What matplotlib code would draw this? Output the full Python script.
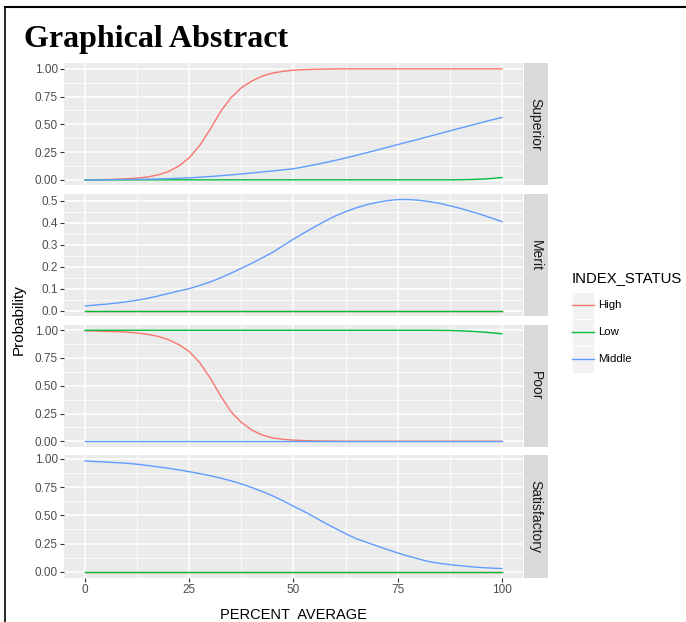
import matplotlib.pyplot as plt
from matplotlib.lines import Line2D
from matplotlib.patches import Rectangle
from matplotlib.legend_handler import HandlerLine2D
from matplotlib.ticker import MultipleLocator, FormatStrFormatter

plt.rcParams['font.family'] = ['Liberation Sans', 'DejaVu Sans']

# percent average grid (values read every 2.5 units)
pct = [0, 2.5, 5, 7.5, 10, 12.5, 15, 17.5, 20, 22.5, 25, 27.5, 30, 32.5, 35, 37.5, 40,
       42.5, 45, 47.5, 50, 52.5, 55, 57.5, 60, 62.5, 65, 67.5, 70, 72.5, 75, 77.5, 80,
       82.5, 85, 87.5, 90, 92.5, 95, 97.5, 100]
zeros = [0.0] * len(pct)

# Superior
sup_high = [0.000, 0.001, 0.003, 0.006, 0.010, 0.016, 0.026, 0.045, 0.075, 0.125, 0.200,
            0.310, 0.455, 0.615, 0.740, 0.830, 0.890, 0.935, 0.962, 0.978, 0.988, 0.993,
            0.996, 0.998, 0.999, 1.000, 1.000, 1.000, 1.000, 1.000, 1.000, 1.000, 1.000,
            1.000, 1.000, 1.000, 1.000, 1.000, 1.000, 1.000, 1.000]
sup_low = [0.000, 0.000, 0.000, 0.000, 0.000, 0.000, 0.000, 0.000, 0.000, 0.000, 0.000,
           0.000, 0.000, 0.000, 0.000, 0.000, 0.000, 0.000, 0.000, 0.000, 0.000, 0.000,
           0.000, 0.000, 0.000, 0.000, 0.000, 0.000, 0.000, 0.000, 0.000, 0.000, 0.000,
           0.000, 0.000, 0.000, 0.001, 0.003, 0.006, 0.012, 0.021]
sup_mid = [0.000, 0.000, 0.001, 0.002, 0.003, 0.004, 0.006, 0.008, 0.011, 0.014, 0.018,
           0.024, 0.030, 0.037, 0.045, 0.053, 0.062, 0.071, 0.080, 0.090, 0.100, 0.117,
           0.135, 0.155, 0.175, 0.197, 0.220, 0.244, 0.268, 0.293, 0.318, 0.342, 0.366,
           0.391, 0.416, 0.441, 0.466, 0.490, 0.515, 0.539, 0.562]

# Merit
mer_high = zeros
mer_low = zeros
mer_mid = [0.021, 0.025, 0.029, 0.034, 0.040, 0.047, 0.056, 0.066, 0.078, 0.089, 0.100,
           0.114, 0.130, 0.149, 0.170, 0.192, 0.215, 0.240, 0.265, 0.295, 0.325, 0.353,
           0.380, 0.406, 0.430, 0.450, 0.467, 0.481, 0.492, 0.500, 0.505, 0.505, 0.502,
           0.496, 0.488, 0.477, 0.465, 0.451, 0.437, 0.421, 0.405]

# Poor
poor_high = [0.995, 0.993, 0.990, 0.987, 0.983, 0.975, 0.963, 0.945, 0.915, 0.870, 0.808,
             0.708, 0.570, 0.410, 0.265, 0.170, 0.100, 0.056, 0.030, 0.017, 0.010, 0.006,
             0.003, 0.002, 0.001, 0.000, 0.000, 0.000, 0.000, 0.000, 0.000, 0.000, 0.000,
             0.000, 0.000, 0.000, 0.000, 0.000, 0.000, 0.000, 0.000]
poor_low = [1.000, 1.000, 1.000, 1.000, 1.000, 1.000, 1.000, 1.000, 1.000, 1.000, 1.000,
            1.000, 1.000, 1.000, 1.000, 1.000, 1.000, 1.000, 1.000, 1.000, 1.000, 1.000,
            1.000, 1.000, 1.000, 1.000, 1.000, 1.000, 1.000, 1.000, 1.000, 1.000, 1.000,
            1.000, 0.999, 0.998, 0.995, 0.991, 0.985, 0.977, 0.968]
poor_mid = zeros

# Satisfactory
sat_high = zeros
sat_low = zeros
sat_mid = [0.980, 0.975, 0.970, 0.965, 0.960, 0.951, 0.940, 0.928, 0.915, 0.901, 0.885,
           0.868, 0.850, 0.829, 0.805, 0.777, 0.745, 0.710, 0.672, 0.628, 0.580, 0.535,
           0.485, 0.433, 0.385, 0.338, 0.295, 0.262, 0.230, 0.198, 0.168, 0.140, 0.115,
           0.091, 0.076, 0.065, 0.055, 0.046, 0.039, 0.034, 0.030]

panels = ['Superior', 'Merit', 'Poor', 'Satisfactory']
status = ['High', 'Low', 'Middle']
colors = ['#F8766D', '#00BA38', '#619CFF']
data = {
    'Superior': [sup_high, sup_low, sup_mid],
    'Merit': [mer_high, mer_low, mer_mid],
    'Poor': [poor_high, poor_low, poor_mid],
    'Satisfactory': [sat_high, sat_low, sat_mid],
}


class KeyHandler(HandlerLine2D):
    # ggplot style grey key background, line centred in the key
    def create_artists(self, legend, orig_handle, xdescent, ydescent, width, height, fontsize, trans):
        box = Rectangle((-xdescent, -ydescent), width, height, facecolor='#F2F2F2',
                        edgecolor='white', lw=0.6, transform=trans)
        arts = super().create_artists(legend, orig_handle, xdescent, 2 * ydescent,
                                      width, height, fontsize, trans)
        return [box] + arts


W, H = 686, 622
fig = plt.figure(figsize=(W / 100, H / 100), dpi=100)

left, pw, ph = 64.3, 458.4, 122.1
for i, name in enumerate(panels):
    top = 63.3 + i * 130.7
    ax = fig.add_axes([left / W, 1 - (top + ph) / H, pw / W, ph / H])
    ax.set_facecolor('#EBEBEB')
    lines = []
    for vals, c in zip(data[name], colors):
        ln, = ax.plot(pct, vals, color=c, lw=1.0)
        lines.append(ln)

    allv = [v for s in data[name] for v in s]
    lo, hi = min(allv), max(allv)
    pad = 0.05 * (hi - lo)
    ax.set_ylim(lo - pad, hi + pad)
    ax.set_xlim(-5, 105)

    ax.xaxis.set_major_locator(MultipleLocator(25))
    ax.xaxis.set_minor_locator(MultipleLocator(12.5))
    if name == 'Merit':
        ax.yaxis.set_major_locator(MultipleLocator(0.1))
        ax.yaxis.set_minor_locator(MultipleLocator(0.05))
        ax.yaxis.set_major_formatter(FormatStrFormatter('%.1f'))
    else:
        ax.yaxis.set_major_locator(MultipleLocator(0.25))
        ax.yaxis.set_minor_locator(MultipleLocator(0.125))
        ax.yaxis.set_major_formatter(FormatStrFormatter('%.2f'))

    ax.grid(which='major', color='white', lw=1.1)
    ax.grid(which='minor', color='white', lw=0.55)
    ax.set_axisbelow(True)
    for sp in ax.spines.values():
        sp.set_visible(False)
    ax.tick_params(which='major', length=2.75, width=0.8, color='#333333',
                   labelcolor='#4D4D4D', labelsize=8.5, pad=1.8)
    ax.tick_params(which='minor', length=0)
    if i < len(panels) - 1:
        ax.tick_params(axis='x', bottom=False, labelbottom=False)
    else:
        ax.tick_params(axis='x', pad=2.2)

    # facet strip
    sax = fig.add_axes([523.5 / W, 1 - (top + ph) / H, 24 / W, ph / H])
    sax.set_facecolor('#D9D9D9')
    sax.set_xticks([])
    sax.set_yticks([])
    for sp in sax.spines.values():
        sp.set_visible(False)
    sax.text(0.5, 0.5, name, rotation=270, ha='center', va='center',
             fontsize=10, color='#1A1A1A', transform=sax.transAxes)

fig.text(293.5 / W, 1 - 619.3 / H, 'PERCENT  AVERAGE', ha='center', va='baseline', fontsize=10.5)
fig.text(18.5 / W, 1 - 320 / H, 'Probability', rotation=90, ha='center', va='center', fontsize=11)

leg = fig.legend(lines, status, title='INDEX_STATUS', loc='upper left',
                 bbox_to_anchor=(572 / W, 1 - 271.5 / H), frameon=False, fontsize=8.2,
                 title_fontsize=10.7, handlelength=1.93, handleheight=3.26, labelspacing=0,
                 handletextpad=0.33, borderpad=0, borderaxespad=0, alignment='left',
                 handler_map={Line2D: KeyHandler()})
leg._legend_box.sep = 4.5

fig.text(24 / W, 1 - 46.7 / H, 'Graphical Abstract', family='Liberation Serif',
         fontweight='bold', fontsize=23, va='baseline')

# black frame lines at top and left
fig.add_artist(Line2D([4.5 / W, 1], [1 - 7.3 / H, 1 - 7.3 / H], color='black', lw=1.5,
                      transform=fig.transFigure))
fig.add_artist(Line2D([4.5 / W, 4.5 / W], [1 - 7.3 / H, 0], color='black', lw=1.2,
                      transform=fig.transFigure))

fig.savefig('out.png', dpi=100)
